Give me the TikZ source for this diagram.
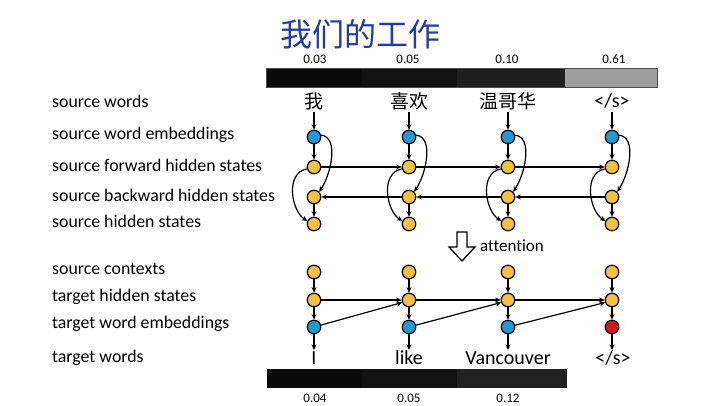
\documentclass[tikz,border=0pt]{standalone}
\usepackage{fontspec}
\setmainfont{Carlito}[Ligatures=CommonOff]
\newfontfamily\cjk{Noto Sans CJK SC}
\usetikzlibrary{arrows.meta}
\definecolor{nblue}{RGB}{30,155,215}
\definecolor{nyel}{RGB}{245,192,60}
\definecolor{nred}{RGB}{215,25,30}
\definecolor{ttl}{RGB}{35,60,160}
\begin{document}
\begin{tikzpicture}[x=1pt,y=-1pt,
  nd/.style={circle,draw=black,line width=1.2pt,minimum size=13.5pt,inner sep=0pt},
  bl/.style={nd,fill=nblue}, yl/.style={nd,fill=nyel}, rd/.style={nd,fill=nred},
  lab/.style={anchor=west,inner sep=0pt,font=\fontsize{17.8}{18}\selectfont},
  wrd/.style={inner sep=1pt,font=\fontsize{20}{20}\selectfont},
  cwrd/.style={inner sep=1pt,font=\cjk\fontsize{19}{19}\selectfont},
  num/.style={inner sep=0pt,font=\fontsize{13}{13}\selectfont},
  ar/.style={-{Stealth[length=5.5pt,width=5pt]},line width=1.2pt}]
\useasboundingbox (0,0) rectangle (720,405);
% title
\node[font=\cjk\fontsize{32}{32}\selectfont,text=ttl,inner sep=0pt] (title) at (360,34) {我们的工作};
% left labels
\node[lab] (l1) at (52,101) {source words};
\node[lab] (l2) at (52,135) {source word embeddings};
\node[lab] (l3) at (52,165) {source forward hidden states};
\node[lab] (l4) at (52,195) {source backward hidden states};
\node[lab] (l5) at (52,221) {source hidden states};
\node[lab] (l6) at (52,269) {source contexts};
\node[lab] (l7) at (52,297) {target hidden states};
\node[lab] (l8) at (52,324) {target word embeddings};
\node[lab] (l9) at (52,358) {target words};
% top bar
\fill[black!96] (266,68) rectangle (362,87);
\fill[black!93] (362,68) rectangle (457,87);
\fill[black!88] (457,68) rectangle (565,87);
\fill[black!38] (565,68) rectangle (657,87);
\draw[black!70,line width=0.6pt] (266,68) rectangle (657,87);
\node[num] (a1) at (315,59) {0.03};
\node[num] (a2) at (408,59) {0.05};
\node[num] (a3) at (507,59) {0.10};
\node[num] (a4) at (614,59) {0.61};
% bottom bar
\fill[black!96] (267,369) rectangle (362,388);
\fill[black!93] (362,369) rectangle (457,388);
\fill[black!87] (457,369) rectangle (567,388);
\node[num] (c1) at (315,398) {0.04};
\node[num] (c2) at (409,398) {0.05};
\node[num] (c3) at (508,398) {0.12};
% source words
\node[cwrd] (sw1) at (314,101) {我};
\node[cwrd] (sw2) at (409,101) {喜欢};
\node[cwrd] (sw3) at (508,101) {温哥华};
\node[wrd] (sw4) at (612,101) {</s>};
% target words
\node[wrd] (tw1) at (314,358) {I};
\node[wrd] (tw2) at (409,358) {like};
\node[wrd] (tw3) at (508,358) {Vancouver};
\node[wrd] (tw4) at (613,358) {</s>};
% nodes
\foreach \i/\x in {1/314,2/409,3/508,4/612}{
  \node[bl] (e\i) at (\x,137) {};
  \node[yl] (f\i) at (\x,167) {};
  \node[yl] (b\i) at (\x,197) {};
  \node[yl] (h\i) at (\x,224) {};
  \node[yl] (c\i) at (\x,272) {};
  \node[yl] (t\i) at (\x,300) {};
}
\foreach \i/\x in {1/314,2/409,3/508}{
  \node[bl] (te\i) at (\x,327) {};
}
\node[rd] (te4) at (612,327) {};
% source edges
\foreach \i in {1,2,3,4}{
  \draw[ar] (sw\i.south |- 0,112) -- (e\i.north);
  \draw[ar] (e\i) -- (f\i);
  \draw[ar] (b\i) -- (h\i);
  \draw[ar] (e\i.15) .. controls +(18,2) and +(12,-18) .. (b\i.45);
  \draw[ar] (f\i.195) .. controls +(-22,4) and +(-16,-10) .. (h\i.155);
  \draw[ar] (c\i) -- (t\i);
  \draw[ar] (t\i) -- (te\i);
  \draw[ar] (te\i) -- (te\i |- 0,350);
}
\foreach \i/\j in {1/2,2/3,3/4}{
  \draw[ar] (f\i) -- (f\j);
  \draw[ar] (b\j) -- (b\i);
  \draw[ar] (t\i) -- (t\j);
  \draw[ar] (te\i) -- (t\j.200);
}
% attention arrow
\draw[line width=1.3pt,fill=white] (457,232) -- (467,232) -- (467,247) -- (475,247) -- (462,261) -- (449,247) -- (457,247) -- cycle;
\node[anchor=west,inner sep=0pt,font=\fontsize{17}{17}\selectfont] (att) at (480,246) {attention};
\end{tikzpicture}
\end{document}
